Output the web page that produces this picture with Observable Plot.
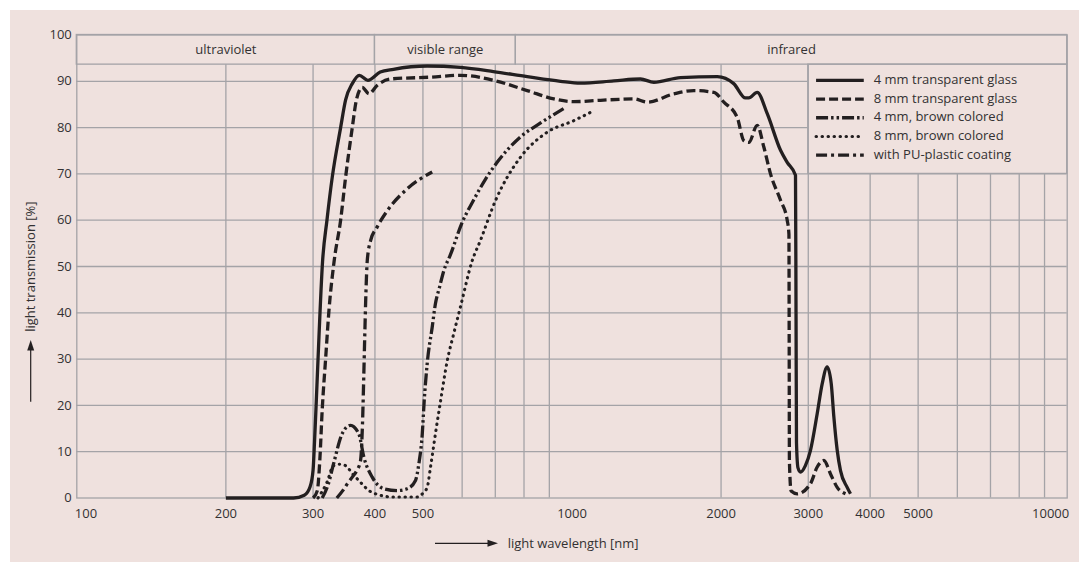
<!DOCTYPE html>
<html>
<head>
<meta charset="utf-8">
<script src="https://cdn.jsdelivr.net/npm/d3@7"></script>
<script src="https://cdn.jsdelivr.net/npm/@observablehq/plot@0.6"></script>
<style>
  html, body { margin: 0; padding: 0; background: #ffffff; }
  #panel { position: absolute; left: 10px; top: 10px; width: 1069px; height: 552px; background: #efe1de; }
  #panel svg { display: block; }
</style>
</head>
<body>
<div id="panel"></div>
<script>
// Light transmission [%] against wavelength [nm], one array of [nm, %] pairs per glazing type
const glass4mm = [
  [200, 0], [274, 0], [288, 0.6], [296, 2.5], [300, 6], [302, 12], [304, 19], [307, 30],
  [313.5, 51], [320, 60], [328, 69.3], [341, 80], [349, 86], [360, 89.5], [372, 91.3],
  [387, 90.2], [410, 92], [436, 92.6], [510, 93.3], [595, 93.0], [694, 92.1], [812, 91],
  [948, 90], [1040, 89.6], [1215, 90.1], [1375, 90.5], [1463, 89.8], [1656, 90.8],
  [1965, 91], [2121, 89.5], [2240, 86.4], [2275, 86.4], [2366, 87.6], [2479, 83],
  [2637, 75.1], [2720, 72.5], [2827, 69.7], [2834, 40], [2840, 12], [2860, 6.5],
  [2893, 5.6], [2960, 7], [3031, 10.3], [3127, 18.2], [3201, 24.7], [3276, 28.3],
  [3338, 24.7], [3379, 17.5], [3432, 10.3], [3485, 5.9], [3595, 2.3], [3651, 0.9]
];
const glass8mm = [
  [300, 0], [306, 1.6], [309.5, 8], [313, 19], [318, 30], [323, 40.5], [331, 51.3],
  [341, 60], [349, 69.3], [360, 80], [367, 86], [377, 88.7], [389, 87.3], [404, 89.1],
  [430, 90.5], [518, 90.9], [595, 91.3], [695, 90.2], [812, 88], [919, 86.2], [1008, 85.6],
  [1142, 85.9], [1333, 86.2], [1419, 85.5], [1606, 87.3], [1762, 88], [1934, 87.6],
  [2026, 85.5], [2156, 82.2], [2223, 77.2], [2275, 76.8], [2366, 80.5], [2440, 75.8],
  [2517, 70], [2637, 64.3], [2720, 60], [2742, 57], [2745, 35], [2748, 8], [2770, 1.5],
  [2850, 0.9], [3031, 3.1], [3127, 6.7], [3226, 8.1], [3327, 5.2], [3432, 2.3], [3567, 0.9]
];
const brown4mm = [
  [313, 0], [322, 3], [330, 7.4], [343.5, 13.9], [357, 15.7], [371, 13.9], [380, 8.8],
  [395, 4.5], [417, 2], [444, 1.6], [465, 2], [483, 3.8], [490.6, 7.4], [498.5, 13.9],
  [503, 21], [510, 29], [522, 36.9], [530, 42], [540, 45.5], [551, 49.1], [568, 52.5],
  [600, 59.5], [634, 64.5], [670, 69], [706, 72.5], [787, 78], [864, 81], [962, 84.1]
];
const brown8mm = [
  [307, 0], [320, 3.4], [330, 7], [340, 7.3], [349, 7], [360, 5.3], [374, 3.4], [389, 1.6],
  [404, 0.8], [436, 0.2], [487, 0.2], [498.5, 0.9], [510, 2.3], [518, 6.7], [530, 13.9],
  [543, 21.1], [560, 29.7], [577, 35.5], [595, 41.2], [629, 51.3], [653, 55.6], [701, 64.3],
  [787, 73.6], [891, 79], [1008, 81.5], [1090, 83.3]
];
const puCoating = [
  [335, 0], [345, 1.7], [352, 3.1], [360, 4.5], [368, 6], [374, 8], [377.5, 16],
  [379.5, 25], [381.5, 35], [383.5, 44], [386, 51.3], [392, 55.6], [404, 58.5],
  [424, 62.1], [465, 66.8], [522, 70.4]
];

const seriesNames = [
  "4 mm transparent glass",
  "8 mm transparent glass",
  "4 mm, brown colored",
  "8 mm, brown colored",
  "with PU-plastic coating"
];
const seriesData = [glass4mm, glass8mm, brown4mm, brown8mm, puCoating];

// Spectral bands across the top of the chart
const bandNames = ["ultraviolet", "visible range", "infrared"];
const bandEdges = [100, 400, 770, 10000];

const xTicks = [100, 200, 300, 400, 500, 1000, 2000, 3000, 4000, 5000, 10000];
const xGridLines = [200, 300, 400, 500, 600, 700, 800, 900, 2000, 3000, 4000, 5000, 6000, 7000, 8000, 9000];
const yTicks = [0, 10, 20, 30, 40, 50, 60, 70, 80, 90, 100];

// Drawing styles
const ink = "#231f20";
const gridColor = "#a4a3a7";
const textColor = "#333132";
const dashes = [null, "9,4", "12,3,2.5,3,2.5,3", "0.4,5.6", "11,4,3,4"];
const caps = ["butt", "butt", "butt", "round", "butt"];
const widths = [3.3, 3.3, 3.3, 3.1, 3.3];
const bandFloor = 93.6;                 // lower edge of the band header
const legendBox = {x1: 3000, x2: 10000, y1: 70, y2: bandFloor};

const bands = bandNames.map((name, i) => ({name, from: bandEdges[i], to: bandEdges[i + 1]}));

const fmt = d3.format("d");

const chart = Plot.plot({
  width: 1069,
  height: 552,
  marginLeft: 66.3,
  marginRight: 12.3,
  marginTop: 24.5,
  marginBottom: 64.5,
  style: {background: "transparent", fontFamily: "'Open Sans', sans-serif", fontSize: "13px", color: textColor},
  x: {type: "log", domain: [100, 10000]},
  y: {domain: [0, 100]},
  marks: [
    // grid: upper right cell is kept free for the legend
    Plot.ruleY(yTicks.filter(d => d > 0 && d < 100), {
      y: d => d, x1: 100, x2: d => d > legendBox.y1 ? legendBox.x1 : 10000,
      stroke: gridColor, strokeWidth: 1.3
    }),
    Plot.ruleX(xGridLines, {
      x: d => d, y1: 0, y2: d => d > legendBox.x1 ? legendBox.y1 : bandFloor,
      stroke: gridColor, strokeWidth: 1.3
    }),
    Plot.rect(bands, {x1: "from", x2: "to", y1: bandFloor, y2: 100, fill: "none", stroke: gridColor, strokeWidth: 1.3}),
    Plot.rect([legendBox], {x1: "x1", x2: "x2", y1: "y1", y2: "y2", fill: "none", stroke: gridColor, strokeWidth: 1.3}),
    Plot.frame({stroke: gridColor, strokeWidth: 1.3}),
    Plot.text(bands, {
      x: d => Math.sqrt(d.from * d.to), y: (bandFloor + 100) / 2, text: "name",
      fill: textColor, fontSize: 13
    }),
    // transmission curves
    ...seriesData.map((data, i) => Plot.line(data, {
      x: d => d[0], y: d => d[1], curve: "monotone-x",
      stroke: ink, strokeWidth: widths[i], strokeDasharray: dashes[i],
      strokeLinejoin: "round", strokeLinecap: caps[i]
    })),
    // axes
    Plot.axisY(yTicks, {tickSize: 0, tickPadding: 5, fontSize: 13, fill: textColor, label: null}),
    Plot.axisX(xTicks.slice(1, -1), {tickSize: 0, tickPadding: 11, fontSize: 13, fill: textColor, label: null, tickFormat: fmt}),
    Plot.axisX([xTicks[0]], {tickSize: 0, tickPadding: 11, fontSize: 13, fill: textColor, label: null, tickFormat: fmt, textAnchor: "start", dx: -2}),
    Plot.axisX([xTicks[xTicks.length - 1]], {tickSize: 0, tickPadding: 11, fontSize: 13, fill: textColor, label: null, tickFormat: fmt, textAnchor: "end", dx: 2})
  ]
});

const svg = d3.select(chart);
const sx = chart.scale("x");
const sy = chart.scale("y");

// legend inside the boxed cell
const boxLeft = sx.apply(legendBox.x1);
const boxTop = sy.apply(legendBox.y2);
const legend = svg.append("g").attr("font-size", 13).attr("fill", textColor).attr("text-anchor", "start");
seriesNames.forEach((name, i) => {
  const cy = boxTop + 16.2 + i * 18.7;
  legend.append("line")
    .attr("x1", boxLeft + 8.3).attr("x2", boxLeft + 56)
    .attr("y1", cy).attr("y2", cy)
    .attr("stroke", ink).attr("stroke-width", widths[i])
    .attr("stroke-linecap", caps[i])
    .attr("stroke-dasharray", dashes[i]);
  legend.append("text")
    .attr("x", boxLeft + 66).attr("y", cy)
    .attr("text-anchor", "start")
    .attr("dominant-baseline", "middle")
    .text(name);
});

// axis titles with their arrows
const titles = svg.append("g").attr("font-size", 13).attr("fill", textColor);
const yLabelX = 21.7, yLabelY = 256.7;
titles.append("text")
  .attr("transform", `translate(${yLabelX},${yLabelY}) rotate(-90)`)
  .attr("text-anchor", "middle")
  .attr("dominant-baseline", "middle")
  .text("light transmission [%]");
titles.append("line")
  .attr("x1", 20.7).attr("x2", 20.7).attr("y1", 391.7).attr("y2", 338)
  .attr("stroke", ink).attr("stroke-width", 1.2);
titles.append("path")
  .attr("d", "M20.7,330 L17.2,340.5 L24.2,340.5 Z").attr("fill", ink);

titles.append("line")
  .attr("x1", 425).attr("x2", 480).attr("y1", 533.3).attr("y2", 533.3)
  .attr("stroke", ink).attr("stroke-width", 1.2);
titles.append("path")
  .attr("d", "M488,533.3 L477.5,529.8 L477.5,536.8 Z").attr("fill", ink);
titles.append("text")
  .attr("x", 497.7).attr("y", 534.5)
  .attr("text-anchor", "start")
  .attr("dominant-baseline", "middle")
  .text("light wavelength [nm]");

document.getElementById("panel").appendChild(chart);
</script>
</body>
</html>
